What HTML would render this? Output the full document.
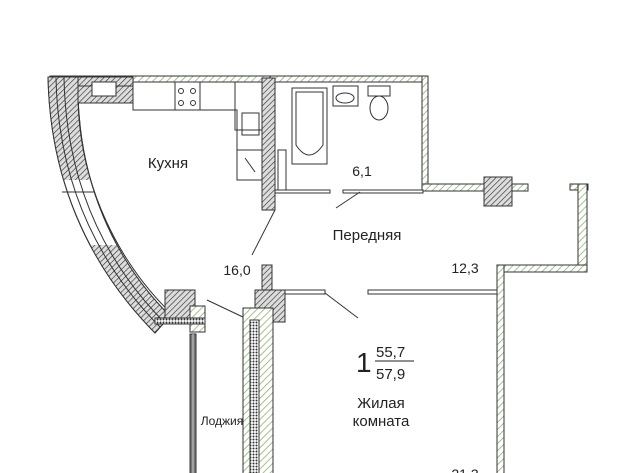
<!DOCTYPE html><html><head><meta charset="utf-8"><style>html,body{margin:0;padding:0;background:#fff}svg{display:block}text{font-family:"Liberation Sans",sans-serif;fill:#222}</style></head><body>
<svg width="640" height="473" viewBox="0 0 640 473" xmlns="http://www.w3.org/2000/svg">
<defs>
<pattern id="g" width="5" height="5" patternUnits="userSpaceOnUse" patternTransform="rotate(45)"><rect width="5" height="5" fill="#fff"/><line x1="0" y1="0" x2="0" y2="5" stroke="#8fb070" stroke-width="1.6"/></pattern>
<pattern id="d" width="4" height="4" patternUnits="userSpaceOnUse" patternTransform="rotate(45)"><rect width="4" height="4" fill="#ddd"/><line x1="0" y1="0" x2="0" y2="4" stroke="#333" stroke-width="1.3"/></pattern>
<pattern id="c" width="3" height="3" patternUnits="userSpaceOnUse"><rect width="3" height="3" fill="#fff"/><circle cx="1.5" cy="1.5" r="1" fill="#333"/></pattern>
<clipPath id="wc"><path d="M48 77 C50 175 85 262 155 333 L170 316 C112 258 80 180 78 95 L78 77 Z"/></clipPath>
</defs>
<g stroke="#333" stroke-width="1">
<!-- top walls -->
<rect x="50" y="76" width="220" height="6" fill="url(#g)"/>
<rect x="270" y="76" width="158" height="6" fill="url(#g)"/>
<rect x="422" y="76" width="6" height="114" fill="url(#g)"/>
<rect x="422" y="184" width="106" height="7" fill="url(#g)"/>
<rect x="484" y="177" width="28" height="29" fill="url(#d)"/>
<rect x="570" y="184" width="18" height="6" fill="url(#g)"/>
<rect x="578" y="184" width="9" height="88" fill="url(#g)"/>
<rect x="497" y="265" width="90" height="7" fill="url(#g)"/>
<rect x="497" y="265" width="7" height="210" fill="url(#g)"/>
<!-- curved outer wall -->
<path d="M48 77 C50 175 85 262 155 333 L170 316 C112 258 80 180 78 95 L78 77 Z" fill="#fff"/>
<g clip-path="url(#wc)">
<rect x="40" y="70" width="60" height="110" fill="url(#d)" stroke="none"/>
<rect x="90" y="245" width="90" height="95" fill="url(#d)" stroke="none"/>
</g>
<path d="M48 77 C50 175 85 262 155 333 L170 316 C112 258 80 180 78 95 L78 77 Z" fill="none"/>
<path d="M56 78 C58 175 92 258 160 327" fill="none"/>
<path d="M64 78 C66 175 99 256 164 322" fill="none"/>
<path d="M78 100 C80 185 118 265 178 320" fill="none"/>
<rect x="78" y="77" width="55" height="26" fill="url(#d)"/>
<rect x="78" y="86" width="55" height="17" fill="url(#d)"/>
<rect x="92" y="82" width="24" height="14" fill="#fff"/>
<!-- kitchen counter -->
<path d="M133 82 H235 V130 H263 V180 H237 V110 H133 Z" fill="#fff"/>
<line x1="175" y1="82" x2="175" y2="110"/><line x1="200" y1="82" x2="200" y2="110"/>
<circle cx="181" cy="91" r="2.5" fill="none"/><circle cx="193" cy="91" r="2.5" fill="none"/><circle cx="181" cy="103" r="2.5" fill="none"/><circle cx="193" cy="103" r="2.5" fill="none"/>
<rect x="242" y="113" width="17" height="22" fill="none"/>
<line x1="237" y1="150" x2="263" y2="150"/>
<line x1="245" y1="158" x2="255" y2="172"/>
<!-- kitchen/bath partition -->
<rect x="262" y="78" width="13" height="132" fill="url(#d)"/>
<rect x="278" y="150" width="8" height="40" fill="#fff"/>
<rect x="275" y="190" width="55" height="3" fill="#fff"/>
<rect x="343" y="190" width="80" height="3" fill="#fff"/>
<line x1="336" y1="208" x2="360" y2="192"/>
<line x1="252" y1="255" x2="275" y2="210"/>
<!-- bath fixtures -->
<rect x="292" y="88" width="35" height="76" fill="#fff"/>
<path d="M296 92 H323 V145 Q309 165 296 145 Z" fill="none"/>
<rect x="333" y="86" width="25" height="20" fill="#fff"/>
<ellipse cx="345" cy="98" rx="9" ry="5" fill="none"/>
<rect x="368" y="86" width="22" height="10" fill="#fff"/>
<ellipse cx="379" cy="108" rx="9" ry="12" fill="#fff"/>
<!-- lower blocks -->
<rect x="165" y="290" width="30" height="28" fill="url(#d)"/>
<rect x="190" y="306" width="15" height="26" fill="url(#g)"/>
<rect x="155" y="318" width="50" height="6" fill="url(#c)"/>
<rect x="262" y="265" width="10" height="25" fill="url(#d)"/>
<rect x="255" y="290" width="30" height="32" fill="url(#d)"/>
<line x1="207" y1="300" x2="245" y2="318"/>
<rect x="285" y="290" width="40" height="4" fill="#fff"/>
<line x1="325" y1="293" x2="358" y2="318"/>
<rect x="368" y="290" width="129" height="4" fill="#fff"/>
<!-- room left wall -->
<rect x="243" y="308" width="30" height="170" fill="url(#g)"/>
<rect x="250" y="320" width="9" height="160" fill="url(#c)"/>
<rect x="190" y="334" width="6" height="140" fill="#777"/>
<line x1="193" y1="334" x2="193" y2="473" stroke="#ccc"/>
<line x1="62" y1="192" x2="95" y2="192"/>
</g>
<text x="168" y="168" font-size="15" text-anchor="middle">Кухня</text>
<text x="362" y="176" font-size="14" text-anchor="middle">6,1</text>
<text x="367" y="240" font-size="15" text-anchor="middle">Передняя</text>
<text x="237" y="275" font-size="14" text-anchor="middle">16,0</text>
<text x="465" y="273" font-size="14" text-anchor="middle">12,3</text>
<text x="356" y="372" font-size="28">1</text>
<text x="376" y="357" font-size="15">55,7</text>
<line x1="375" y1="361" x2="414" y2="361" stroke="#222"/>
<text x="376" y="379" font-size="15">57,9</text>
<text x="381" y="408" font-size="15" text-anchor="middle">Жилая</text>
<text x="381" y="426" font-size="15" text-anchor="middle">комната</text>
<text x="222" y="425" font-size="12" text-anchor="middle">Лоджия</text>
<text x="465" y="479" font-size="14" text-anchor="middle">21,3</text>
</svg></body></html>
